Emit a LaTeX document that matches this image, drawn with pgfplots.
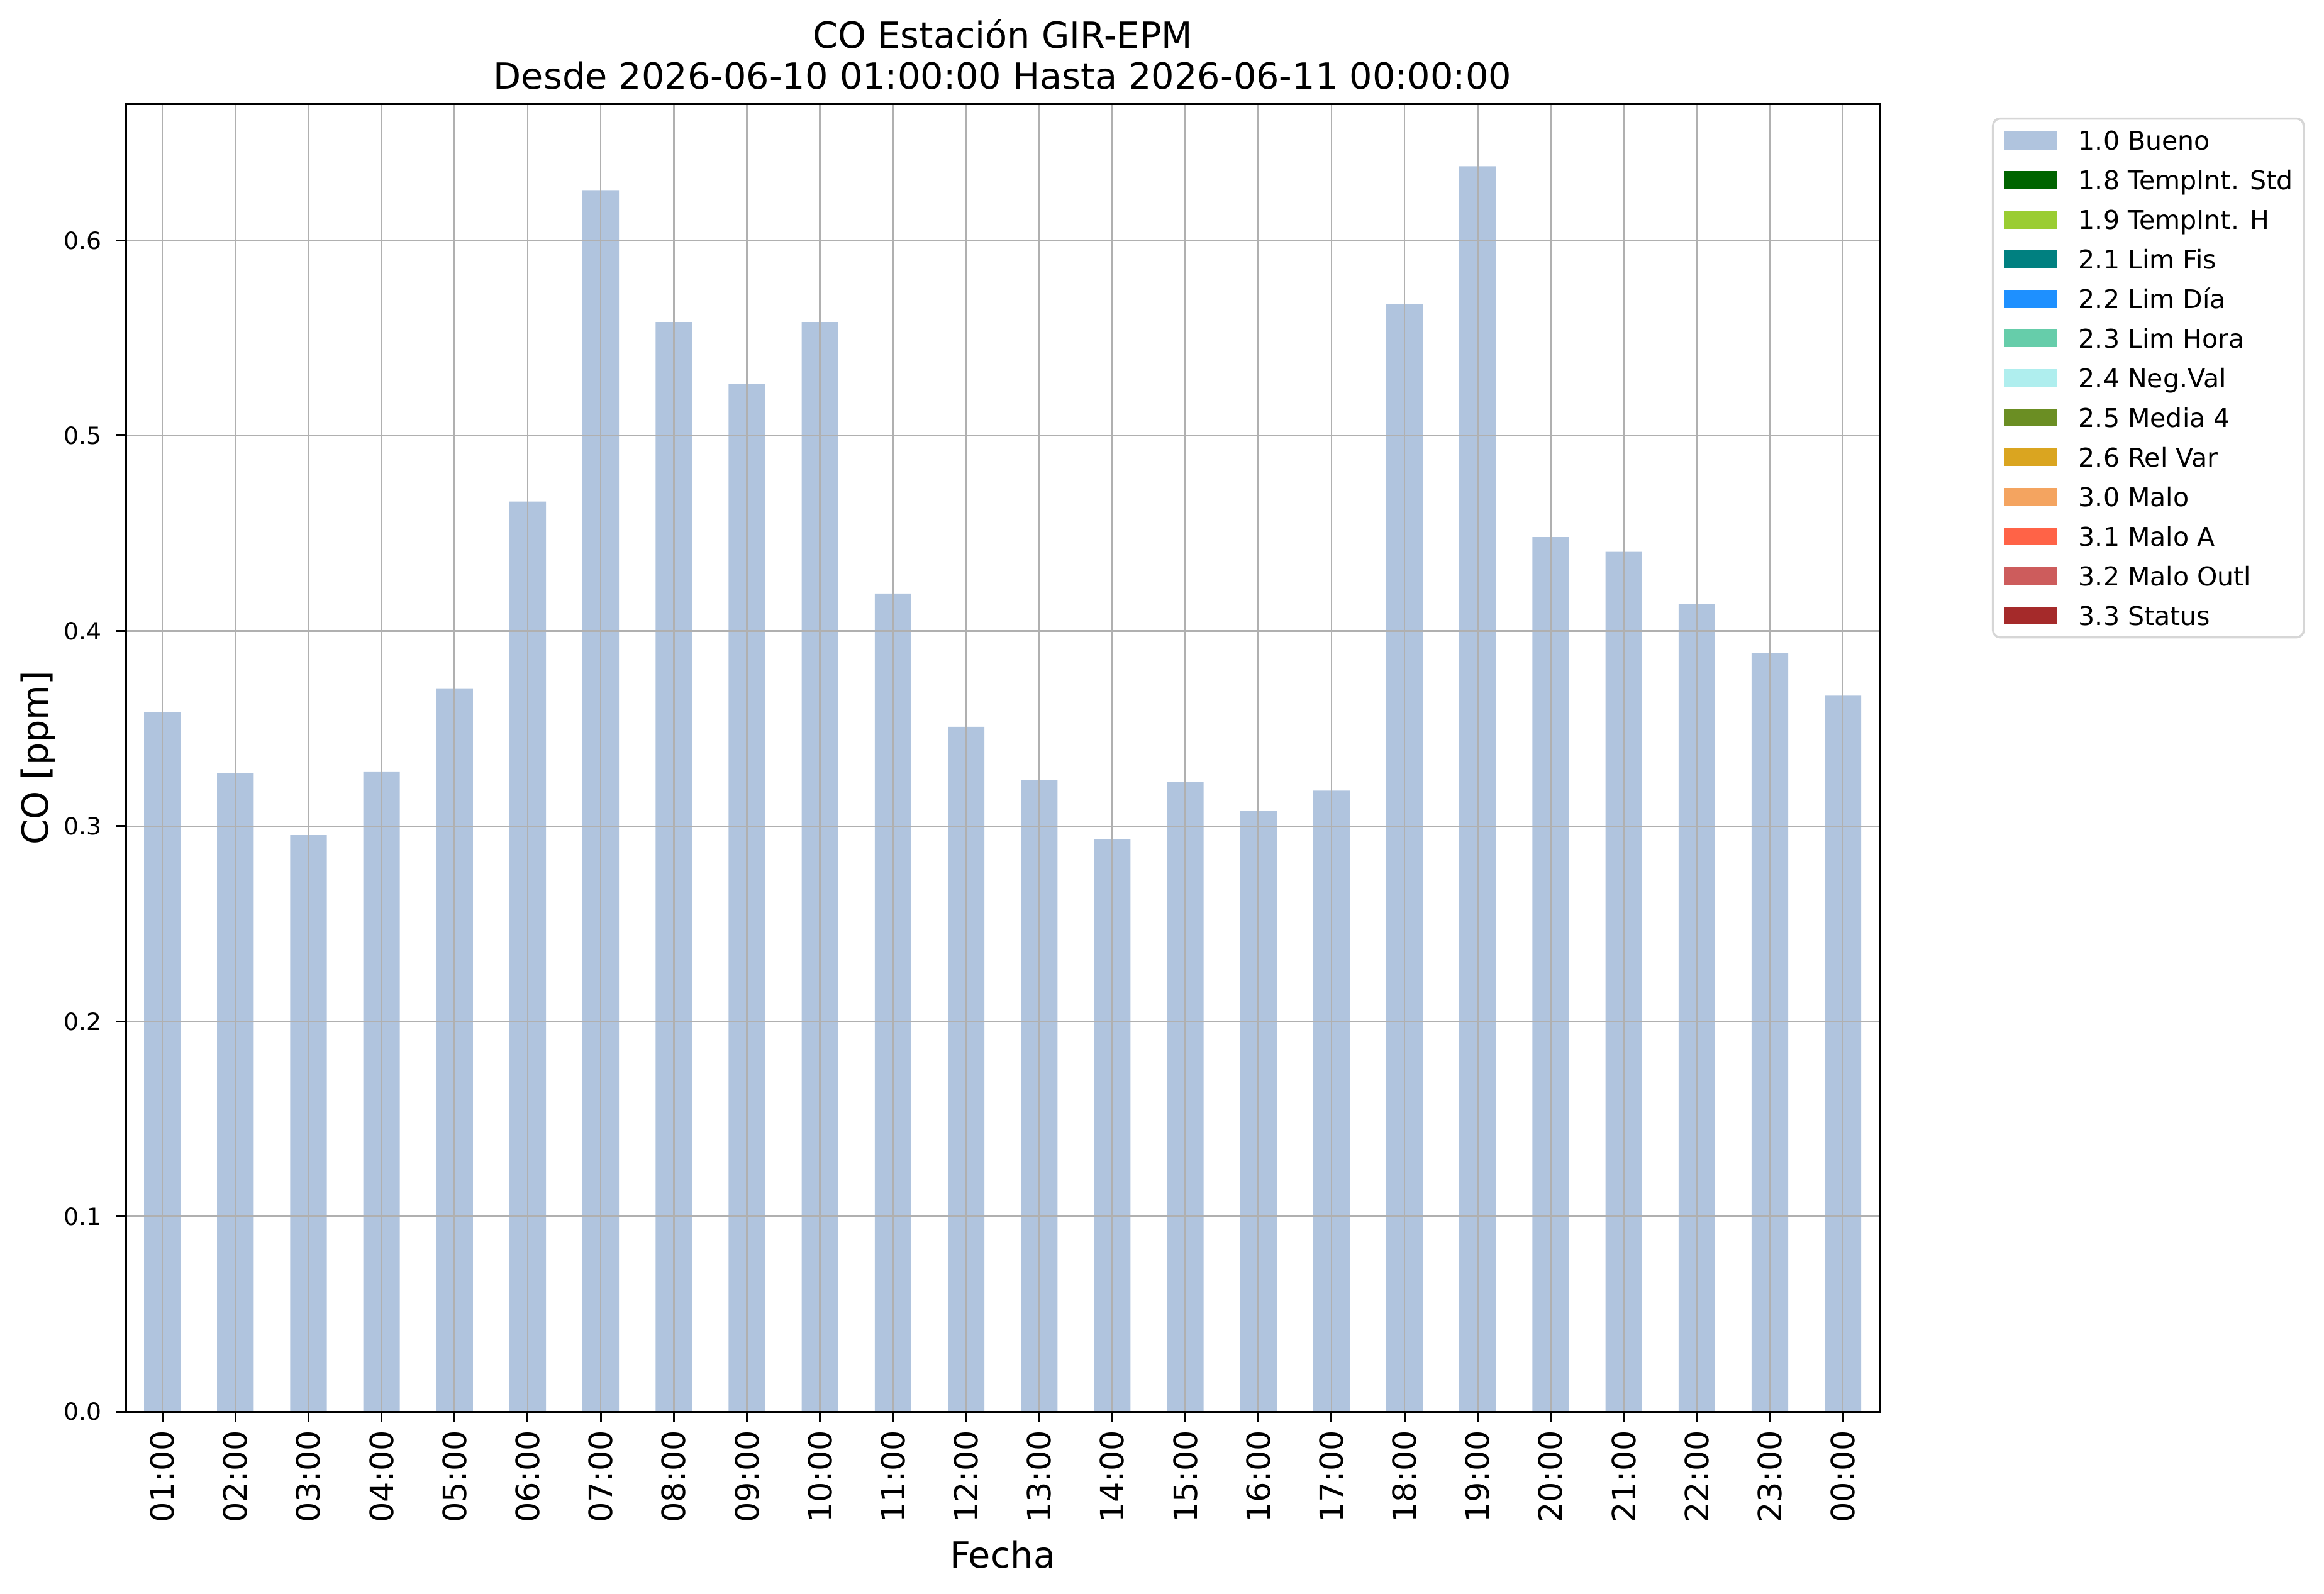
\documentclass[border=0pt]{standalone}
\usepackage{fontspec}
\setmainfont{DejaVu Sans}
\usepackage{pgfplots}
\pgfplotsset{compat=1.18}
\definecolor{bueno}{RGB}{176,196,222}
\definecolor{cDarkGreen}{RGB}{0,100,0}
\definecolor{cYellowGreen}{RGB}{154,205,50}
\definecolor{cTeal}{RGB}{0,128,128}
\definecolor{cDodger}{RGB}{30,144,255}
\definecolor{cMedAqua}{RGB}{102,205,170}
\definecolor{cPaleTurq}{RGB}{175,238,238}
\definecolor{cOlive}{RGB}{107,142,35}
\definecolor{cGold}{RGB}{218,165,32}
\definecolor{cSandy}{RGB}{244,164,96}
\definecolor{cTomato}{RGB}{255,99,71}
\definecolor{cIndian}{RGB}{205,92,92}
\definecolor{cBrown}{RGB}{165,42,42}
\definecolor{gridgray}{RGB}{176,176,176}
\definecolor{legframe}{RGB}{214,214,214}
\begin{document}
\begin{tikzpicture}
\begin{axis}[
  name=ax,
  scale only axis,
  width=739.5pt, height=551.7pt,
  ybar, bar width=0.5,
  xmin=-0.5, xmax=23.5,
  ymin=0, ymax=0.67,
  xtick={0,...,23},
  xticklabels={01:00,02:00,03:00,04:00,05:00,06:00,07:00,08:00,09:00,10:00,11:00,12:00,13:00,14:00,15:00,16:00,17:00,18:00,19:00,20:00,21:00,22:00,23:00,00:00},
  ytick={0,0.1,0.2,0.3,0.4,0.5,0.6},
  xtick pos=bottom, ytick pos=left,
  yticklabel style={/pgf/number format/fixed, /pgf/number format/precision=1, /pgf/number format/fixed zerofill, /pgf/number format/assume math mode=true, font=\fontsize{10}{12}\selectfont, inner sep=0pt, anchor=east},
  yticklabel shift=5.7pt,
  xticklabel style={rotate=90, anchor=east, font=\fontsize{13.5}{16}\selectfont, inner sep=0pt},
  xticklabel shift=3.5pt,
  tick align=outside,
  major tick length=4.2pt,
  tick style={black, line width=0.8pt},
  axis line style={black, line width=0.8pt},
  grid=major,
  grid style={gridgray, line width=0.7pt},
  axis on top,
  legend image code/.code={\fill[#1, draw=none, sharp corners] (0pt,-3.8pt) rectangle (22.3pt,3.8pt);},
  legend cell align=left,
  legend style={at={(1.0641,0.9895)}, anchor=north west, draw=legframe, line width=0.9pt, rounded corners=3pt,
    font=\fontsize{10.9}{13}\selectfont, inner xsep=4.5pt, inner ysep=4.7pt, row sep=7.7pt,
    nodes={inner sep=0pt, text height=8.5pt, text depth=0.5pt},
    /tikz/every odd column/.append style={column sep=9.3pt}},
]
\addplot[fill=bueno, draw=none] coordinates {
(0,0.3585) (1,0.3273) (2,0.2954) (3,0.3280) (4,0.3706) (5,0.4663)
(6,0.6258) (7,0.5582) (8,0.5263) (9,0.5582) (10,0.4192) (11,0.3509)
(12,0.3235) (13,0.2932) (14,0.3228) (15,0.3076) (16,0.3182) (17,0.5673)
(18,0.6380) (19,0.4481) (20,0.4405) (21,0.4139) (22,0.3888) (23,0.3668)};
\addlegendentry{1.0 Bueno}
\addlegendimage{fill=cDarkGreen}\addlegendentry{1.8 TempInt. Std}
\addlegendimage{fill=cYellowGreen}\addlegendentry{1.9 TempInt. H}
\addlegendimage{fill=cTeal}\addlegendentry{2.1 Lim Fis}
\addlegendimage{fill=cDodger}\addlegendentry{2.2 Lim Día}
\addlegendimage{fill=cMedAqua}\addlegendentry{2.3 Lim Hora}
\addlegendimage{fill=cPaleTurq}\addlegendentry{2.4 Neg.Val}
\addlegendimage{fill=cOlive}\addlegendentry{2.5 Media 4}
\addlegendimage{fill=cGold}\addlegendentry{2.6 Rel Var}
\addlegendimage{fill=cSandy}\addlegendentry{3.0 Malo}
\addlegendimage{fill=cTomato}\addlegendentry{3.1 Malo A}
\addlegendimage{fill=cIndian}\addlegendentry{3.2 Malo Outl}
\addlegendimage{fill=cBrown}\addlegendentry{3.3 Status}
\end{axis}
\node[anchor=base, font=\fontsize{15.2}{18}\selectfont] at ([yshift=23.5pt]ax.north) {CO Estación GIR-EPM};
\node[anchor=base, font=\fontsize{15.2}{18}\selectfont] at ([yshift=6.2pt]ax.north) {Desde 2026-06-10 01:00:00 Hasta 2026-06-11 00:00:00};
\node[anchor=base, rotate=90, font=\fontsize{15.2}{18}\selectfont] at ([xshift=-32.7pt]ax.west) {CO [ppm]};
\node[anchor=base, font=\fontsize{15.2}{18}\selectfont] at ([yshift=-65.8pt]ax.south) {Fecha};
\pgfresetboundingbox
\useasboundingbox ([xshift=-53.05pt,yshift=-76.6pt]ax.south west) rectangle ([xshift=187.45pt,yshift=43.8pt]ax.north east);
\end{tikzpicture}
\end{document}
